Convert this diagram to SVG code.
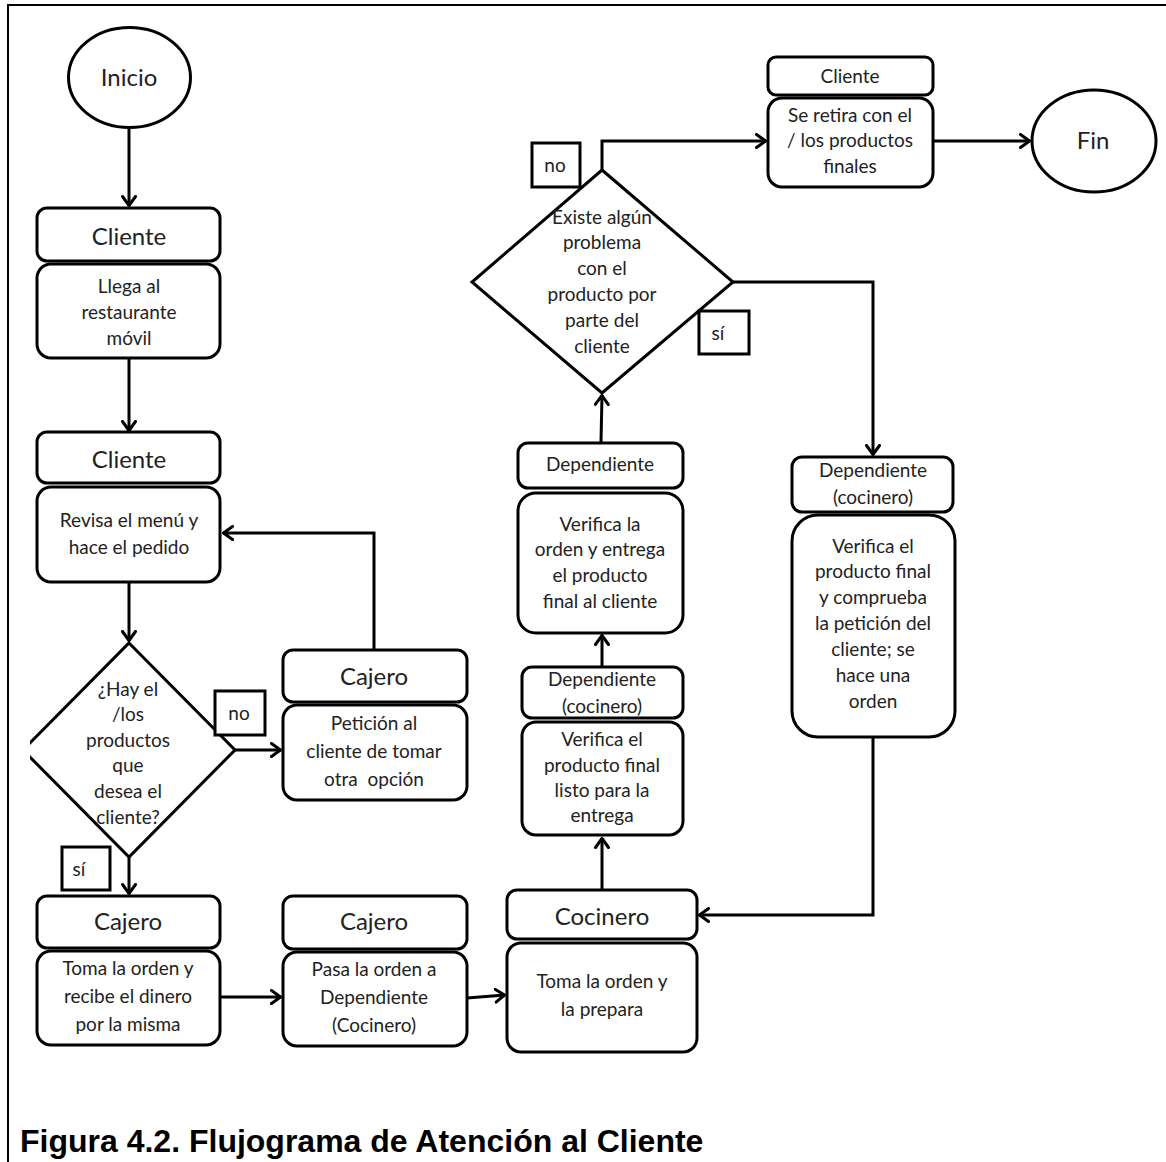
<svg xmlns="http://www.w3.org/2000/svg" width="1166" height="1162" viewBox="0 0 1166 1162">
<style>
.box{fill:#fff;stroke:#000;stroke-width:3}
.lbl{fill:#fff;stroke:#000;stroke-width:3}
.con{fill:none;stroke:#000;stroke-width:3}
.t{font-family:Lato,"Open Sans",sans-serif;fill:#222;text-anchor:middle}
.h{font-size:24px}
.hs{font-size:19px}
.b{font-size:19px}
.cap{font-family:"Liberation Sans",Arial,sans-serif;font-weight:bold;font-size:32px;fill:#000}
</style>
<defs>
<marker id="arr" viewBox="0 0 12 16" refX="11" refY="8" markerWidth="12" markerHeight="16" markerUnits="userSpaceOnUse" orient="auto">
<path d="M1.5,1.5 L10.5,8 L1.5,14.5" fill="none" stroke="#000" stroke-width="3" stroke-linecap="round" stroke-linejoin="round"/>
</marker>
<clipPath id="clipL"><rect x="30" y="0" width="1136" height="1162"/></clipPath>
</defs>
<rect x="0" y="0" width="1166" height="1162" fill="#fff"/>
<g id="frame">
<path d="M8,1162 L8,5 L1166,5" fill="none" stroke="#000" stroke-width="2"/>
</g>

<g id="connectors">
<path class="con" d="M129,128 L129,206" marker-end="url(#arr)"/>
<path class="con" d="M129,358 L129,431" marker-end="url(#arr)"/>
<path class="con" d="M129,582 L129,641" marker-end="url(#arr)"/>
<path class="con" d="M235,750 L281,750" marker-end="url(#arr)"/>
<path class="con" d="M374,650 L374,533 L223,533" marker-end="url(#arr)"/>
<path class="con" d="M129,857 L129,894" marker-end="url(#arr)"/>
<path class="con" d="M220,997 L281,997" marker-end="url(#arr)"/>
<path class="con" d="M467,998 L505,995" marker-end="url(#arr)"/>
<path class="con" d="M602,890 L602,838" marker-end="url(#arr)"/>
<path class="con" d="M602,667 L602,635" marker-end="url(#arr)"/>
<path class="con" d="M601,442 L602,395" marker-end="url(#arr)"/>
<path class="con" d="M602,170 L602,141 L766,141" marker-end="url(#arr)"/>
<path class="con" d="M933,141 L1030,141" marker-end="url(#arr)"/>
<path class="con" d="M733,282 L873,282 L873,455" marker-end="url(#arr)"/>
<path class="con" d="M873,737 L873,915 L699,915" marker-end="url(#arr)"/>
</g>

<g id="inicio">
<ellipse class="box" cx="129.5" cy="77.5" rx="61" ry="50"/>
<text class="t h" x="129" y="86">Inicio</text>
</g>

<g id="cliente1">
<rect class="box" x="37" y="208" width="183" height="53" rx="10"/>
<text class="t h" x="129" y="245">Cliente</text>
<rect class="box" x="37" y="264" width="183" height="94" rx="14"/>
<text class="t b" x="129" y="293">Llega al</text>
<text class="t b" x="129" y="319">restaurante</text>
<text class="t b" x="129" y="345">móvil</text>
</g>

<g id="cliente2">
<rect class="box" x="37" y="432" width="183" height="51" rx="10"/>
<text class="t h" x="129" y="468">Cliente</text>
<rect class="box" x="37" y="487" width="183" height="95" rx="14"/>
<text class="t b" x="129" y="527">Revisa el menú y</text>
<text class="t b" x="129" y="554">hace el pedido</text>
</g>

<g id="decision1">
<polygon class="box" clip-path="url(#clipL)" points="129,643 235,750 129,857 23,750"/>
<text class="t b" x="128" y="696">¿Hay el</text>
<text class="t b" x="128" y="721">/los</text>
<text class="t b" x="128" y="747">productos</text>
<text class="t b" x="128" y="772">que</text>
<text class="t b" x="128" y="798">desea el</text>
<text class="t b" x="128" y="824">cliente?</text>
</g>

<g id="label-no1">
<rect class="lbl" x="215" y="691" width="50" height="44"/>
<text class="t b" x="239" y="720">no</text>
</g>

<g id="label-si1">
<rect class="lbl" x="62" y="847" width="48" height="43"/>
<text class="t b" x="79" y="876">sí</text>
</g>

<g id="cajero-peticion">
<rect class="box" x="283" y="650" width="184" height="52" rx="10"/>
<text class="t h" x="374" y="685">Cajero</text>
<rect class="box" x="283" y="705" width="184" height="95" rx="14"/>
<text class="t b" x="374" y="730">Petición al</text>
<text class="t b" x="374" y="758">cliente de tomar</text>
<text class="t b" x="374" y="786" xml:space="preserve">otra  opción</text>
</g>

<g id="cajero-toma">
<rect class="box" x="37" y="896" width="183" height="52" rx="10"/>
<text class="t h" x="128" y="930">Cajero</text>
<rect class="box" x="37" y="951" width="183" height="94" rx="14"/>
<text class="t b" x="128" y="975">Toma la orden y</text>
<text class="t b" x="128" y="1003">recibe el dinero</text>
<text class="t b" x="128" y="1031">por la misma</text>
</g>

<g id="cajero-pasa">
<rect class="box" x="283" y="896" width="184" height="53" rx="10"/>
<text class="t h" x="374" y="930">Cajero</text>
<rect class="box" x="283" y="952" width="184" height="94" rx="14"/>
<text class="t b" x="374" y="976">Pasa la orden a</text>
<text class="t b" x="374" y="1004">Dependiente</text>
<text class="t b" x="374" y="1032">(Cocinero)</text>
</g>

<g id="cocinero">
<rect class="box" x="507" y="890" width="190" height="49" rx="10"/>
<text class="t h" x="602" y="925">Cocinero</text>
<rect class="box" x="507" y="943" width="190" height="109" rx="14"/>
<text class="t b" x="602" y="988">Toma la orden y</text>
<text class="t b" x="602" y="1016">la prepara</text>
</g>

<g id="dependiente-cocinero-verifica">
<rect class="box" x="522" y="667" width="161" height="51" rx="10"/>
<text class="t hs" x="602" y="686">Dependiente</text>
<text class="t hs" x="602" y="713">(cocinero)</text>
<rect class="box" x="522" y="722" width="161" height="113" rx="14"/>
<text class="t b" x="602" y="746">Verifica el</text>
<text class="t b" x="602" y="772">producto final</text>
<text class="t b" x="602" y="797">listo para la</text>
<text class="t b" x="602" y="822">entrega</text>
</g>

<g id="dependiente-entrega">
<rect class="box" x="518" y="443" width="165" height="45" rx="10"/>
<text class="t hs" x="600" y="471">Dependiente</text>
<rect class="box" x="518" y="493" width="165" height="140" rx="18"/>
<text class="t b" x="600" y="531">Verifica la</text>
<text class="t b" x="600" y="556">orden y entrega</text>
<text class="t b" x="600" y="582">el producto</text>
<text class="t b" x="600" y="608">final al cliente</text>
</g>

<g id="decision2">
<polygon class="box" points="602,170 733,282 602,393 472,282"/>
<text class="t b" x="602" y="224">Existe algún</text>
<text class="t b" x="602" y="249">problema</text>
<text class="t b" x="602" y="275">con el</text>
<text class="t b" x="602" y="301">producto por</text>
<text class="t b" x="602" y="327">parte del</text>
<text class="t b" x="602" y="353">cliente</text>
</g>

<g id="label-no2">
<rect class="lbl" x="532" y="143" width="48" height="44"/>
<text class="t b" x="555" y="172">no</text>
</g>

<g id="label-si2">
<rect class="lbl" x="699" y="311" width="50" height="43"/>
<text class="t b" x="718" y="340">sí</text>
</g>

<g id="cliente-retira">
<rect class="box" x="768" y="57" width="165" height="38" rx="8"/>
<text class="t hs" x="850" y="83">Cliente</text>
<rect class="box" x="768" y="98" width="165" height="89" rx="14"/>
<text class="t b" x="850" y="122">Se retira con el</text>
<text class="t b" x="850" y="147">/ los productos</text>
<text class="t b" x="850" y="173">finales</text>
</g>

<g id="fin">
<ellipse class="box" cx="1094" cy="141" rx="62" ry="51"/>
<text class="t h" x="1093" y="149">Fin</text>
</g>

<g id="dependiente-cocinero-comprueba">
<rect class="box" x="792" y="457" width="161" height="55" rx="10"/>
<text class="t hs" x="873" y="477">Dependiente</text>
<text class="t hs" x="873" y="504">(cocinero)</text>
<rect class="box" x="792" y="515" width="163" height="222" rx="26"/>
<text class="t b" x="873" y="553">Verifica el</text>
<text class="t b" x="873" y="578">producto final</text>
<text class="t b" x="873" y="604">y comprueba</text>
<text class="t b" x="873" y="630">la petición del</text>
<text class="t b" x="873" y="656">cliente; se</text>
<text class="t b" x="873" y="682">hace una</text>
<text class="t b" x="873" y="708">orden</text>
</g>

<g id="caption">
<text class="cap" x="20" y="1152">Figura 4.2. Flujograma de Atención al Cliente</text>
</g>
</svg>
